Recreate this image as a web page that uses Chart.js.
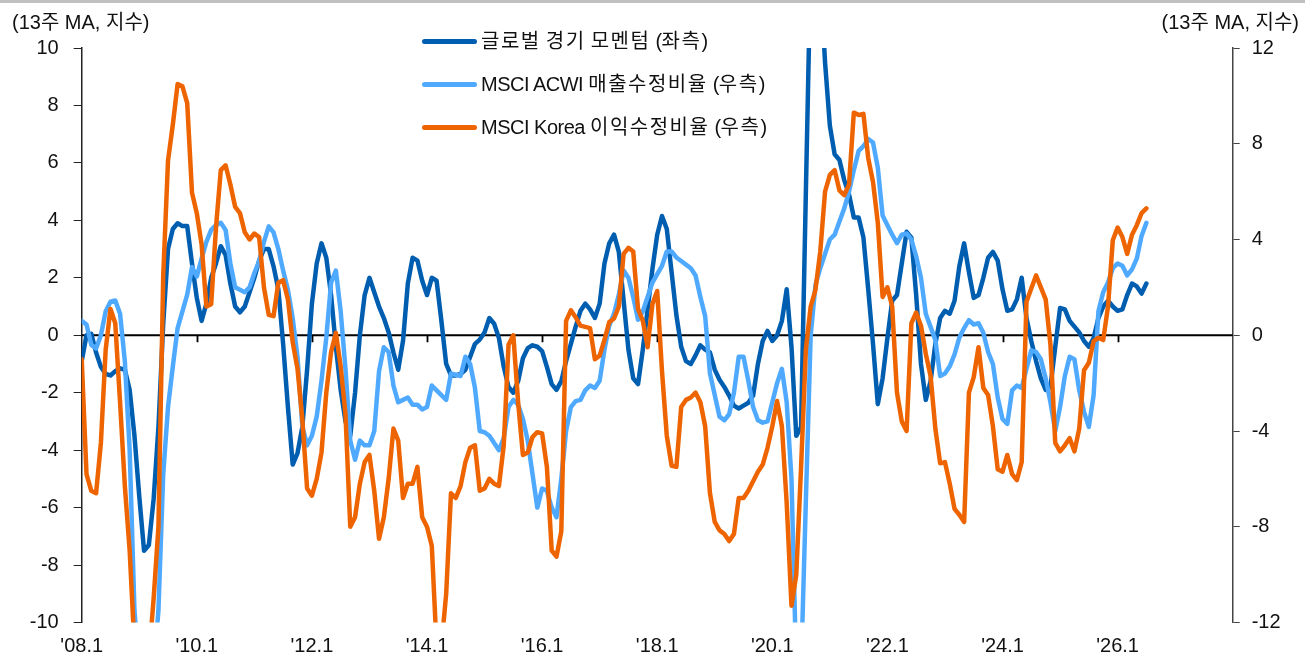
<!DOCTYPE html>
<html>
<head>
<meta charset="utf-8">
<script src="https://cdn.jsdelivr.net/npm/chart.js@4"></script>
<style>
html,body{margin:0;padding:0;background:#fff;}
#wrap{position:relative;width:1305px;height:659px;overflow:hidden;background:#fff;}
#topbar{position:absolute;left:0;top:0;width:1305px;height:3px;background:#c0c0c0;}
#c{position:absolute;left:0;top:0;}
.txt{position:absolute;font-family:"Liberation Sans Narrow","Arial Narrow","Liberation Sans","Noto Sans CJK KR",sans-serif;font-size:20px;color:#111;white-space:nowrap;line-height:24px;}
.lgline{position:absolute;height:5px;border-radius:3px;}
.ko{letter-spacing:1.5px;}
.la{letter-spacing:-0.5px;}
</style>
</head>
<body>
<div id="wrap">
  <div id="topbar"></div>
  <canvas id="c" width="1305" height="659"></canvas>
  <div class="txt" id="ltitle" style="left:12px;top:10px;">(13주 MA, 지수)</div>
  <div class="txt" id="rtitle" style="right:6px;top:10px;">(13주 MA, 지수)</div>
  <div id="legend"></div>
</div>
<script>
// ---- data (monthly samples of 13-week moving averages, Jan 2008 .. Jul 2026) ----
const START_YEAR = 2008;
const tickLabels = ["'08.1","'10.1","'12.1","'14.1","'16.1","'18.1","'20.1","'22.1","'24.1","'26.1"];

const momentum = [
 -0.9, 0.0, 0.05, -0.6, -1.1, -1.35, -1.4, -1.25, -1.15, -1.2, -1.9, -3.5,
 -5.6, -7.5, -7.3, -5.7, -3.2, 0.4, 3.0, 3.7, 3.9, 3.8, 3.8, 2.5,
 1.3, 0.5, 1.1, 2.0, 2.5, 3.1, 2.8, 1.8, 1.0, 0.8, 1.0, 1.5,
 2.0, 2.6, 3.0, 3.0, 2.4, 1.6, -0.3, -2.5, -4.5, -4.1, -3.2, -1.2,
 1.1, 2.5, 3.2, 2.7, 1.4, -0.4, -1.9, -3.0, -3.5, -2.0, 0.0, 1.4,
 2.0, 1.5, 1.0, 0.6, 0.1, -0.6, -1.2, -0.2, 1.8, 2.7, 2.6, 1.9,
 1.4, 2.0, 1.9, 0.5, -1.0, -1.4, -1.4, -1.35, -1.2, -0.75, -0.3, -0.15,
 0.1, 0.6, 0.4, -0.1, -1.1, -1.8, -2.0, -1.6, -0.8, -0.45, -0.35, -0.4,
 -0.55, -1.1, -1.7, -1.9, -1.6, -0.9, -0.3, 0.3, 0.85, 1.1, 0.9, 0.6,
 1.1, 2.5, 3.2, 3.5, 2.9, 1.2, -0.5, -1.5, -1.7, -0.5, 0.9, 2.3,
 3.5, 4.15, 3.7, 2.2, 0.7, -0.4, -0.9, -1.0, -0.7, -0.35, -0.5, -0.6,
 -1.2, -1.55, -1.8, -2.1, -2.45, -2.55, -2.45, -2.35, -2.1, -1.0, -0.2, 0.15,
 -0.2, 0.0, 0.5, 1.6, -0.4, -3.5, -3.2, 5.0, 13.0, 14.0, 12.5, 9.5,
 7.3, 6.3, 6.1, 5.4, 4.9, 4.1, 4.1, 3.4, 1.6, -0.3, -2.4, -1.5,
 -0.1, 1.2, 1.4, 2.5, 3.6, 3.4, 1.4, -1.0, -2.25, -1.6, -0.3, 0.6,
 0.85, 0.75, 1.2, 2.4, 3.2, 2.2, 1.3, 1.4, 2.0, 2.7, 2.9, 2.6,
 1.6, 0.85, 0.9, 1.25, 2.0, 0.6, -0.2, -0.9, -1.5, -1.9, -1.8, -0.4,
 0.95, 0.9, 0.5, 0.3, 0.1, -0.2, -0.4, -0.1, 0.6, 1.0, 1.2, 1.0,
 0.85, 0.9, 1.4, 1.8, 1.7, 1.45, 1.8
];

const acwiRevision = [
 0.6, 0.45, -0.4, -0.55, 0.0, 1.0, 1.4, 1.45, 0.9, -1.1, -4.8, -11.5,
 -14, -16, -16, -14, -11.5, -5.8, -3.0, -1.3, 0.3, 1.0, 1.7, 2.85,
 2.45, 3.2, 3.9, 4.4, 4.6, 4.7, 4.4, 3.0, 2.0, 1.9, 1.8, 2.0,
 2.6, 3.1, 3.9, 4.55, 4.3, 3.6, 2.7, 1.9, 0.7, -0.9, -3.8, -4.6,
 -4.2, -3.4, -1.9, -0.1, 2.2, 2.7, 1.0, -1.4, -4.4, -5.2, -4.4, -4.6,
 -4.6, -4.0, -1.5, -0.5, -0.7, -2.1, -2.8, -2.7, -2.6, -2.9, -2.9, -3.1,
 -3.0, -2.1, -2.3, -2.5, -2.7, -1.6, -1.65, -1.7, -0.9, -1.2, -2.2, -4.0,
 -4.05, -4.2, -4.5, -4.8, -4.3, -3.0, -2.7, -2.9, -3.5, -4.4, -5.8, -7.2,
 -6.4, -6.5, -7.2, -7.6, -6.0, -4.0, -3.0, -2.75, -2.7, -2.3, -2.1, -2.2,
 -1.9, -0.6, 0.4, 0.9, 1.7, 2.7, 2.4, 1.6, 0.65, 1.0, 1.6, 2.2,
 2.55, 2.9, 3.5, 3.5, 3.25, 3.1, 2.95, 2.8, 2.5, 1.6, 0.8, -1.6,
 -2.5, -3.4, -3.55, -3.3, -2.4, -0.9, -0.9, -1.9, -3.0, -3.55, -3.65, -3.6,
 -2.8, -2.0, -1.4, -2.8, -6.0, -14, -14, -6.9, 0.0, 2.1, 2.8, 3.4,
 4.0, 4.2, 4.75, 5.3, 6.0, 6.9, 7.7, 7.9, 8.2, 8.05, 7.0, 5.0,
 4.6, 4.2, 3.85, 4.2, 4.25, 4.0, 3.3, 2.4, 0.9, 0.35, -0.2, -1.7,
 -1.6, -1.3, -0.8, -0.1, 0.3, 0.63, 0.45, 0.5, 0.1, -0.7, -1.2, -2.6,
 -3.5, -3.7, -2.3, -2.1, -2.2, -1.4, -0.63, -0.7, -1.0, -1.8, -2.8, -4.0,
 -3.0, -1.7, -0.9, -1.0, -2.3, -3.2, -3.83, -2.5, 1.0, 1.8, 2.2, 2.8,
 3.0, 2.9, 2.5, 2.75, 3.2, 4.15, 4.7
];

const koreaRevision = [
 -1.0, -5.8, -6.5, -6.6, -4.5, -0.6, 1.1, 0.5, -2.8, -6.3, -9.0, -13,
 -15, -15, -13.5, -11.0, -8.0, 2.5, 7.3, 8.8, 10.5, 10.4, 9.7, 5.95,
 5.1, 3.8, 1.2, 1.3, 4.5, 6.9, 7.1, 6.3, 5.36, 5.1, 4.3, 4.0,
 4.25, 4.1, 2.0, 0.85, 0.8, 2.2, 2.3, 1.5, -0.3, -1.4, -3.5, -6.4,
 -6.7, -6.0, -4.9, -2.4, -0.7, 0.1, -1.3, -3.3, -8.0, -7.6, -6.2, -5.3,
 -5.0, -6.5, -8.5, -7.6, -6.0, -3.9, -4.4, -6.8, -6.2, -6.2, -5.5, -7.6,
 -8.0, -8.8, -13, -13, -10.8, -6.6, -6.8, -6.3, -5.3, -4.7, -4.6, -6.5,
 -6.4, -6.0, -6.2, -6.3, -4.6, -0.4, 0.0, -2.8, -5.0, -4.9, -4.25, -4.05,
 -4.1, -5.5, -9.0, -9.25, -8.2, 0.6, 1.04, 0.75, 0.4, 0.35, 0.3, -1.0,
 -0.85, -0.2, 0.55, 0.7, 1.2, 3.4, 3.65, 3.5, 1.1, 0.6, -0.5, 1.3,
 1.85, -1.5, -4.2, -5.45, -5.5, -3.0, -2.7, -2.6, -2.4, -2.8, -3.8, -6.6,
 -7.8, -8.15, -8.3, -8.6, -8.3, -6.8, -6.8, -6.5, -6.1, -5.7, -5.4, -4.7,
 -3.8, -2.75, -3.8, -7.0, -11.3, -10.0, -5.5, -0.6, 1.2, 1.9, 3.5, 6.0,
 6.7, 6.9, 6.05, 5.85, 6.3, 9.3, 9.2, 9.25, 7.4, 6.4, 4.7, 1.6,
 2.0, 1.2, -2.4, -3.6, -4.0, 0.5, 0.95, 0.4, -0.77, -1.7, -3.9, -5.35,
 -5.3, -6.2, -7.25, -7.5, -7.8, -2.4, -1.75, -0.5, -2.2, -2.5, -3.8, -5.6,
 -5.7, -5.0, -5.8, -6.05, -5.3, 1.4, 1.95, 2.5, 2.0, 1.5, -0.4, -4.5,
 -4.85, -4.6, -4.3, -4.85, -3.9, -1.46, -1.15, -0.25, -0.1, -0.2, 1.2, 3.97,
 4.5, 4.1, 3.4, 4.2, 4.6, 5.1, 5.3
];

// month positions as decimal years
const monthPos = momentum.map((_, i) => START_YEAR + i / 12);

const seriesDefs = [
  { label: '글로벌 경기 모멘텀 (좌측)', data: momentum, color: '#005EB0', axis: 'y', order: 3 },
  { label: 'MSCI ACWI 매출수정비율 (우측)', data: acwiRevision, color: '#4FAAFF', axis: 'y1', order: 2 },
  { label: 'MSCI Korea 이익수정비율 (우측)', data: koreaRevision, color: '#EE6400', axis: 'y1', order: 1 }
];

const FONT = '"Liberation Sans Narrow","Arial Narrow","Liberation Sans","Noto Sans CJK KR",sans-serif';

const zeroAxis = {
  id: 'zeroAxis',
  beforeDatasetsDraw(chart) {
    const { ctx, chartArea, scales } = chart;
    const x = scales.x, y = scales.y;
    const y0 = y.getPixelForValue(0);
    ctx.save();
    ctx.strokeStyle = '#000';
    ctx.lineWidth = 1.8;
    ctx.beginPath();
    ctx.moveTo(chartArea.left, y0);
    ctx.lineTo(chartArea.right, y0);
    x.ticks.forEach(t => {
      if (t.value <= x.min || t.value >= x.max) return;
      const px = Math.round(x.getPixelForValue(t.value)) + 0.5;
      ctx.moveTo(px, y0);
      ctx.lineTo(px, y0 + 7);
    });
    ctx.stroke();
    ctx.restore();
  }
};

const chart = new Chart(document.getElementById('c'), {
  type: 'line',
  data: {
    datasets: seriesDefs.map(s => ({
      label: s.label,
      data: s.data.map((v, i) => ({ x: monthPos[i], y: v })),
      borderColor: s.color,
      backgroundColor: s.color,
      borderWidth: 4.5,
      pointRadius: 0,
      tension: 0,
      yAxisID: s.axis,
      order: s.order,
      borderJoinStyle: 'round',
      borderCapStyle: 'round'
    }))
  },
  options: {
    responsive: false,
    animation: false,
    layout: { padding: { top: 48, left: 0, right: 0, bottom: 0 } },
    plugins: { legend: { display: false }, tooltip: { enabled: false } },
    scales: {
      x: {
        type: 'linear', min: 2008, max: 2028,
        grid: { display: false, drawTicks: false },
        border: { display: false },
        ticks: {
          stepSize: 2, padding: 12, color: '#111', maxRotation: 0, autoSkip: false,
          font: { family: FONT, size: 20 },
          callback: v => { const k = Math.round((v - 2008) / 2); return tickLabels[k] ?? ''; }
        },
        afterFit: s => { s.height = 36.5; }
      },
      y: {
        position: 'left', min: -10, max: 10,
        grid: { drawOnChartArea: false, drawTicks: true, tickLength: 8, color: '#222', tickColor: '#222' },
        border: { display: true, color: '#222', width: 1.5 },
        ticks: { stepSize: 2, padding: 15, color: '#111', font: { family: FONT, size: 20 } },
        afterFit: s => { s.width = 81.7; }
      },
      y1: {
        position: 'right', min: -12, max: 12,
        grid: { drawOnChartArea: false, drawTicks: true, tickLength: 7, color: '#444', tickColor: '#444' },
        border: { display: true, color: '#444', width: 1.5 },
        ticks: { stepSize: 4, padding: 12, color: '#111', font: { family: FONT, size: 20 } },
        afterFit: s => { s.width = 72.3; }
      }
    }
  },
  plugins: [zeroAxis]
});

// legend (HTML, built from the dataset definitions)
const lg = document.getElementById('legend');
const legendTops = [41, 84, 127];
seriesDefs.forEach((s, i) => {
  const line = document.createElement('div');
  line.className = 'lgline';
  line.style.left = '422px';
  line.style.width = '55px';
  line.style.top = (legendTops[i] - 2.5) + 'px';
  line.style.background = s.color;
  lg.appendChild(line);
  const t = document.createElement('div');
  t.className = 'txt';
  t.style.left = '481px';
  t.style.top = (legendTops[i] - 12) + 'px';
  // split label into Hangul / Latin runs for spacing closer to the original
  s.label.split(/([\uAC00-\uD7A3]+)/).forEach(part => {
    if (!part) return;
    const sp = document.createElement('span');
    sp.className = /[\uAC00-\uD7A3]/.test(part) ? 'ko' : 'la';
    sp.textContent = part;
    t.appendChild(sp);
  });
  lg.appendChild(t);
});
</script>
</body>
</html>
